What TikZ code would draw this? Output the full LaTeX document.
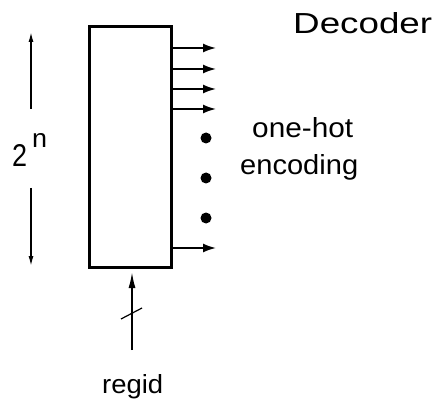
\documentclass[tikz,border=0pt]{standalone}
\usepackage{fontspec}
\setmainfont{Liberation Sans}
\usetikzlibrary{arrows.meta}
\tikzset{
  sig/.style={line width=1.7pt,-{Latex[length=13pt,width=9pt]}},
  dim/.style={line width=1.5pt,-{Latex[length=10pt,width=5pt]}},
  lbl/.style={anchor=base west,inner sep=0pt},
  dotmark/.style={circle,fill=black,inner sep=0pt,minimum size=11pt},
}
\begin{document}
\begin{tikzpicture}[x=1pt,y=-1pt]
\useasboundingbox (0,0) rectangle (436,406);
% decoder box
\node[draw,line width=3pt,minimum width=82pt,minimum height=240pt,inner sep=0pt] (box) at (130,147) {};
% outputs
\foreach \i/\y in {1/48,2/69,3/89,4/109,5/248}{
  \coordinate (o\i) at (216,\y);
  \draw[sig] (box.east |- o\i) -- (o\i);
}
% dots
\node[dotmark] (d1) at (206,138) {};
\node[dotmark] (d2) at (206,178) {};
\node[dotmark] (d3) at (206,218) {};
% texts
\node[lbl] (title) at (293,34) {\resizebox{139pt}{21pt}{Decoder}};
\node[lbl] (oh) at (252,138) {\resizebox{101pt}{20pt}{one-hot}};
\node[lbl] (enc) at (240,175) {\resizebox{118pt}{20pt}{encoding}};
\node[lbl] (regid) at (102,393) {\resizebox{61pt}{19pt}{regid}};
\node[lbl] (two) at (12,167) {\resizebox{15pt}{22pt}{2}\hspace{5pt}\raisebox{19pt}{\resizebox{15pt}{14pt}{n}}};
% dimension arrows
\coordinate (ut) at (31,32);
\coordinate (ub) at (31,109);
\coordinate (lt) at (31,188);
\coordinate (lb) at (31,266);
\draw[dim] (ub) -- (ut);
\draw[dim] (lt) -- (lb);
% input
\coordinate (in) at (132,350);
\coordinate (tip) at (132,272);
\coordinate (s1) at (121,319);
\coordinate (s2) at (142,308);
\draw[line width=1.7pt,-{Latex[length=16pt,width=7pt]}] (in) -- (tip);
\draw[line width=1.2pt] (s1) -- (s2);
\end{tikzpicture}
\end{document}
